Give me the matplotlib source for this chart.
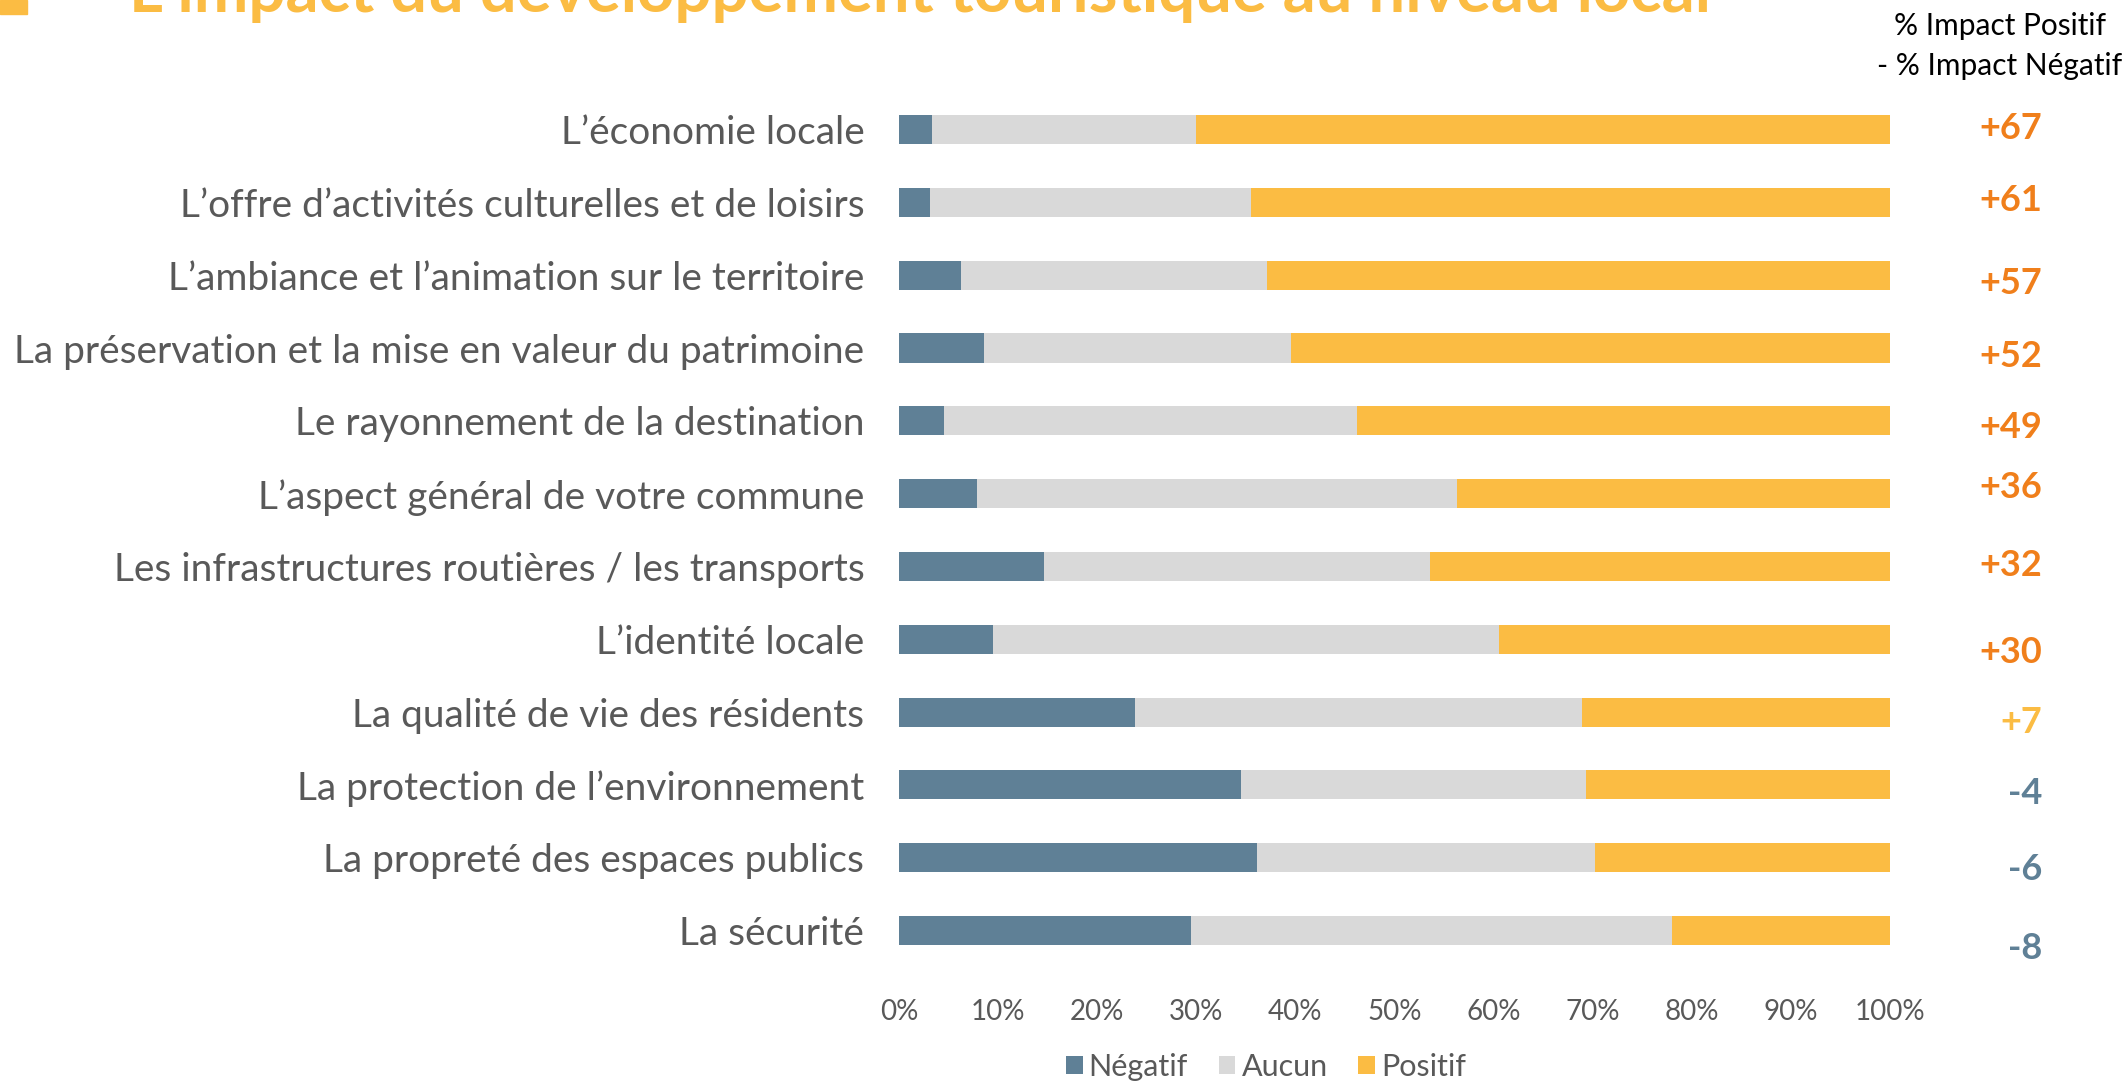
import matplotlib
matplotlib.use("Agg")
import matplotlib.pyplot as plt
import matplotlib.transforms as mtransforms
from matplotlib.patches import Rectangle
import numpy as np

plt.rcParams['font.family'] = ['Lato', 'DejaVu Sans']

# categories, top to bottom
categories = [
    "L’économie locale",
    "L’offre d’activités culturelles et de loisirs",
    "L’ambiance et l’animation sur le territoire",
    "La préservation et la mise en valeur du patrimoine",
    "Le rayonnement de la destination",
    "L’aspect général de votre commune",
    "Les infrastructures routières / les transports",
    "L’identité locale",
    "La qualité de vie des résidents",
    "La protection de l’environnement",
    "La propreté des espaces publics",
    "La sécurité",
]
negatif = [3.3, 3.1, 6.3, 8.6, 4.5, 7.9, 14.6, 9.5, 23.8, 34.5, 36.1, 29.5]
aucun = [26.7, 32.4, 30.8, 31.0, 41.7, 48.4, 39.0, 51.1, 45.1, 34.8, 34.2, 48.5]
positif = [70.0, 64.5, 62.9, 60.4, 53.8, 43.7, 46.4, 39.4, 31.1, 30.7, 29.7, 22.0]
solde = ["+67", "+61", "+57", "+52", "+49", "+36", "+32", "+30", "+7", "-4", "-6", "-8"]
# the solde labels sit a little off the bar centres in the original
label_shift = [-0.01, -0.02, 0.12, 0.11, 0.09, -0.08, -0.02, 0.18, 0.14, 0.12, 0.16, 0.25]

c_neg = "#5F8096"
c_auc = "#D9D9D9"
c_pos = "#FBBC43"
c_orange = "#F07F1B"
c_text = "#595959"

fig = plt.figure(figsize=(21.27, 10.84), dpi=100)
ax = fig.add_axes([0.4227, 0.108, 0.4657, 0.806])

y = np.arange(len(categories))
neg = np.array(negatif)
auc = np.array(aucun)
pos = np.array(positif)

b1 = ax.barh(y, neg, height=0.4, color=c_neg, label="Négatif")
b2 = ax.barh(y, auc, left=neg, height=0.4, color=c_auc, label="Aucun")
b3 = ax.barh(y, pos, left=neg + auc, height=0.4, color=c_pos, label="Positif")

ax.set_ylim(len(categories) - 0.5, -0.5)
ax.set_xlim(0, 100)
ax.set_yticks(y)
ax.set_yticklabels(categories, fontsize=28, color=c_text)
ax.set_xticks(np.arange(0, 101, 10))
ax.set_xticklabels([f"{v}%" for v in range(0, 101, 10)], fontsize=20, color=c_text)
ax.tick_params(axis='y', length=0, pad=25)
ax.tick_params(axis='x', length=0, pad=23)
for s in ax.spines.values():
    s.set_visible(False)

# solde labels on the right
trans = mtransforms.blended_transform_factory(fig.transFigure, ax.transData)
for i, txt in enumerate(solde):
    val = int(txt)
    if val >= 10:
        col = c_orange
    elif val > 0:
        col = c_pos
    else:
        col = c_neg
    ax.text(2042 / 2127, i + label_shift[i], txt, transform=trans, ha='right', va='center',
            fontsize=26, fontweight='bold', color=col)

fig.text(2000 / 2127, 1 - 26 / 1084, "% Impact Positif", ha='center', va='center',
         fontsize=21.5, color='black')
fig.text(2000 / 2127, 1 - 66 / 1084, "- % Impact Négatif", ha='center', va='center',
         fontsize=21.5, color='black')

# clipped title and bullet
fig.text(129 / 2127, 1 - 12 / 1084, "L’impact du développement touristique au niveau local",
         ha='left', va='baseline', fontsize=47, fontweight='bold', color=c_pos)
fig.patches.append(Rectangle((0, 1 - 14 / 1084), 27 / 2127, 14 / 1084,
                             transform=fig.transFigure, color=c_pos))

fig.legend(handles=[b1, b2, b3], loc='center', bbox_to_anchor=(1266 / 2127, 17 / 1084),
           ncol=3, frameon=False, fontsize=22, handlelength=0.55, handleheight=0.55,
           handletextpad=0.2, columnspacing=1.0, labelcolor=c_text, borderpad=0)

fig.savefig("out.png", dpi=100)
